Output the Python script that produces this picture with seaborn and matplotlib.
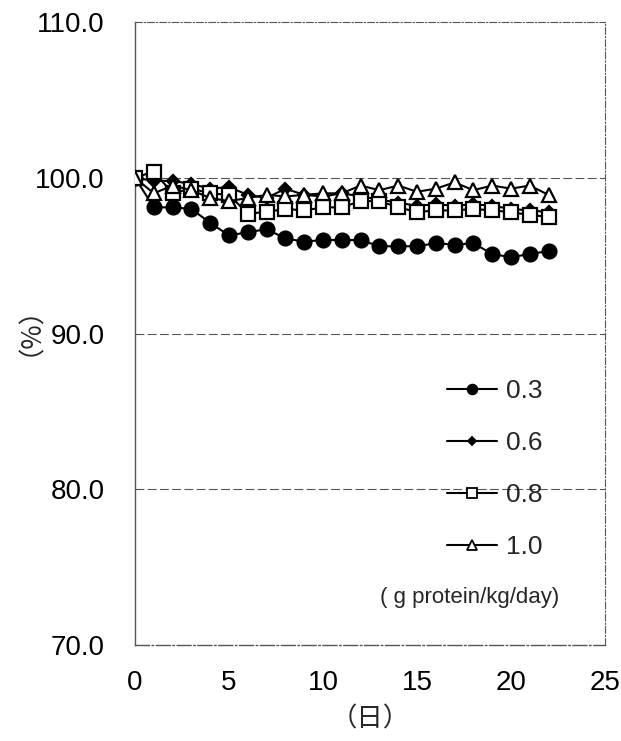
import numpy as np
import pandas as pd
import matplotlib
matplotlib.use("Agg")
import matplotlib.pyplot as plt
import seaborn as sns
from matplotlib.lines import Line2D

days = list(range(0, 23))
s03 = [100.0, 98.1, 98.1, 98.0, 97.1, 96.3, 96.5, 96.7, 96.1, 95.9, 96.0, 96.0,
       96.0, 95.6, 95.6, 95.6, 95.8, 95.7, 95.8, 95.1, 94.9, 95.1, 95.3]
s06 = [100.0, 99.8, 99.8, 99.6, 99.3, 99.4, 98.9, 98.7, 99.3, 98.9, 98.8, 99.0,
       98.8, 98.6, 98.4, 98.2, 98.3, 98.2, 98.3, 98.2, 98.0, 97.9, 97.8]
s08 = [100.0, 100.4, 99.0, 99.3, 99.0, 98.9, 97.7, 97.8, 98.0, 97.9, 98.1, 98.1,
       98.5, 98.5, 98.1, 97.8, 97.9, 97.9, 98.0, 97.9, 97.8, 97.6, 97.5]
s10 = [100.0, 99.0, 99.5, 99.2, 98.7, 98.5, 98.7, 98.9, 98.8, 98.9, 99.0, 99.0,
       99.5, 99.2, 99.5, 99.1, 99.3, 99.7, 99.2, 99.5, 99.3, 99.5, 98.9]
series_labels = ["0.3", "0.6", "0.8", "1.0"]
unit_text = "( g protein/kg/day)"
yticks = [70.0, 80.0, 90.0, 100.0, 110.0]
xticks = [0, 5, 10, 15, 20, 25]

df = pd.DataFrame({
    "day": days * 4,
    "value": s03 + s06 + s08 + s10,
    "group": sum([[g] * len(days) for g in series_labels], []),
})

sns.set_theme(style="white")
plt.rcParams["font.family"] = ["Liberation Sans", "Noto Sans CJK JP", "DejaVu Sans"]

fig = plt.figure(figsize=(6.21, 7.41), dpi=100)
ax = fig.add_axes([135 / 621, 1 - 645 / 741, 470 / 621, 623 / 741])

styles = {
    "0.3": dict(marker="o", ms=10, mfc="black"),
    "0.6": dict(marker="D", ms=6, mfc="black"),
    "0.8": dict(marker="s", ms=10, mfc="white"),
    "1.0": dict(marker="^", ms=10, mfc="white"),
}
for g in series_labels:
    st = styles[g]
    sns.lineplot(data=df[df["group"] == g], x="day", y="value", ax=ax,
                 color="black", lw=1.5, marker=st["marker"], markersize=st["ms"],
                 markerfacecolor=st["mfc"], markeredgecolor="black",
                 markeredgewidth=1.6, legend=False, zorder=3)

ax.set_xlim(0, 25)
ax.set_ylim(70, 110)
ax.set_xticks(xticks)
ax.set_yticks(yticks)
ax.set_yticklabels([f"{v:.1f}" for v in yticks])
ax.tick_params(axis="both", direction="in", length=4, width=0.8, labelsize=20,
               colors="black")
ax.tick_params(axis="y", pad=22)
ax.tick_params(axis="x", pad=18)
for v in [80, 90, 100]:
    ax.axhline(v, color="#555555", lw=0.8, ls=(0, (8, 3)), zorder=1)

ax.spines["left"].set_color("#555555")
ax.spines["left"].set_linewidth(1.0)
ax.spines["bottom"].set_color("#555555")
ax.spines["bottom"].set_linewidth(1.0)
ax.spines["bottom"].set_linestyle((0, (10, 2, 1, 2)))
for s in ["top", "right"]:
    ax.spines[s].set_color("#555555")
    ax.spines[s].set_linewidth(0.8)
    ax.spines[s].set_linestyle((0, (6, 2, 1, 2)))

ax.set_xlabel("（日）", fontsize=19,
              family=["Noto Sans CJK JP", "DejaVu Sans"])
ax.xaxis.set_label_coords(0.5, -(705 - 645) / 623)
ax.set_ylabel("（%）", fontsize=19,
              family=["Noto Sans CJK JP", "DejaVu Sans"])
ax.yaxis.set_label_coords(-(135 - 30) / 470, (645 - 318) / 623)

handles = []
for g in series_labels:
    st = styles[g]
    handles.append(Line2D([], [], color="black", lw=1.5, marker=st["marker"],
                          markersize=st["ms"] * 0.7, markerfacecolor=st["mfc"],
                          markeredgecolor="black", markeredgewidth=1.3))
leg = ax.legend(handles, series_labels, loc="upper left",
                bbox_to_anchor=((447 - 135) / 470, (645 - 379) / 623),
                frameon=False, fontsize=19, handlelength=1.9, handletextpad=0.35,
                labelspacing=1.06, borderpad=0, borderaxespad=0)
ax.text((470 - 135) / 470, (645 - 597) / 623, unit_text, transform=ax.transAxes,
        ha="center", va="center", fontsize=16)

fig.savefig("out.png", dpi=100, facecolor="white")
